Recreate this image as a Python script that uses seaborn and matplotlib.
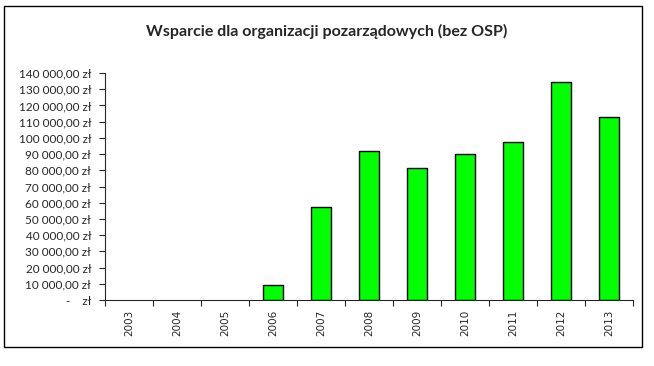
import numpy as np
import pandas as pd
import seaborn as sns
import matplotlib.pyplot as plt
from matplotlib.patches import Rectangle
from matplotlib.ticker import FuncFormatter, FixedLocator

# data
years = ["2003", "2004", "2005", "2006", "2007", "2008",
         "2009", "2010", "2011", "2012", "2013"]
amounts = [0, 0, 0, 9100, 57400, 92000, 81300, 90000, 97400, 134500, 112800]
y_ticks = list(range(0, 140001, 10000))

data = pd.DataFrame({"Rok": years, "Kwota": amounts})

sns.set_style("ticks")
plt.rcParams["font.family"] = ["Lato", "DejaVu Sans"]

fig = plt.figure(figsize=(6.54, 3.66), dpi=100)
ax = fig.add_axes([0.1606, 0.1803, 0.8074, 0.6202])

sns.barplot(data=data, x="Rok", y="Kwota", color="#00FF00", width=0.4,
            edgecolor="black", linewidth=1, saturation=1, ax=ax)
# empty years: no outline on the axis
for bar in ax.patches:
    if bar.get_height() == 0:
        bar.set_linewidth(0)

def fmt(v, pos):
    if v == 0:
        return "-    zł"
    return f"{int(v):,}".replace(",", " ") + ",00 zł"

ax.set_ylim(0, 140000)
ax.set_xlim(-0.5, len(years) - 0.5)
ax.set_yticks(y_ticks)
ax.yaxis.set_major_formatter(FuncFormatter(fmt))
ax.tick_params(axis="y", labelsize=8.5, length=4, width=0.8, pad=6)
ax.tick_params(axis="x", which="major", length=0, labelsize=7.5, pad=7,
               labelrotation=90)
ax.xaxis.set_minor_locator(FixedLocator(np.arange(-0.5, len(years), 1)))
ax.tick_params(axis="x", which="minor", length=4, width=0.8)
for lbl in ax.get_xticklabels():
    lbl.set_family("DejaVu Sans")
ax.set_xlabel("")
ax.set_ylabel("")
sns.despine(ax=ax)
for s in ["left", "bottom"]:
    ax.spines[s].set_linewidth(0.8)

fig.text(0.5, 0.915, "Wsparcie dla organizacji pozarządowych (bez OSP)",
         ha="center", va="center", fontsize=11.5, fontweight="bold")

fig.patches.append(Rectangle((4 / 654, 1 - 347 / 366), 638 / 654, 341 / 366,
                             transform=fig.transFigure, fill=False,
                             edgecolor="black", linewidth=1))

fig.savefig("out.png", dpi=100)
